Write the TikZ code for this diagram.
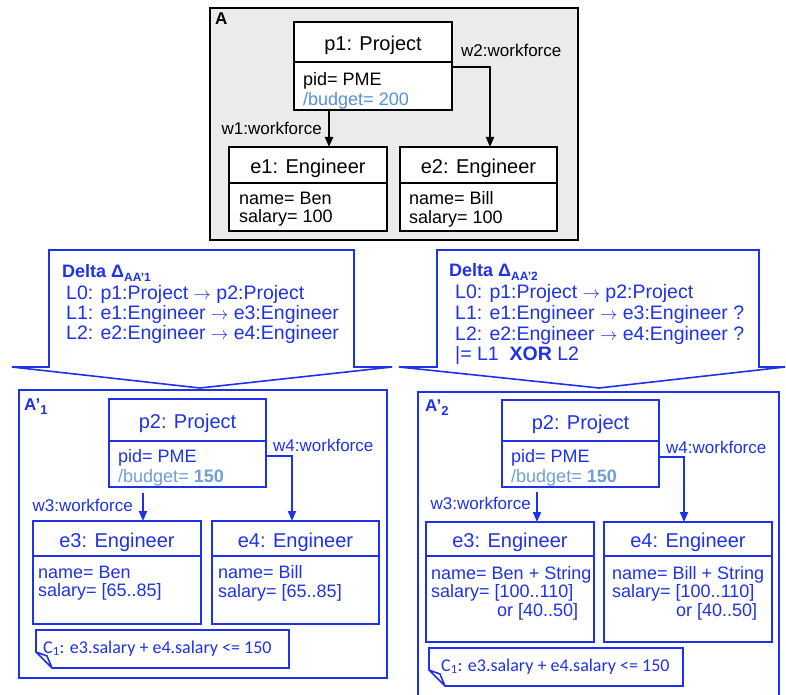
\documentclass[tikz,border=0pt]{standalone}
\usepackage{fontspec}
\setmainfont{Liberation Sans}
\newfontfamily\notefont{Carlito}
\usetikzlibrary{positioning, calc, arrows.meta}
\definecolor{dblue}{RGB}{30,50,235}
\definecolor{budget}{RGB}{85,145,220}
\definecolor{budgetl}{RGB}{110,160,215}
\definecolor{framegray}{RGB}{235,235,235}
\newcommand{\maps}{{\fontsize{17}{17}\selectfont$\rightarrow$}}
\tikzset{
  objhead/.style={draw, line width=2pt, outer sep=0pt, inner sep=0pt, fill=white, text height=17pt, text depth=0pt, font=\fontsize{20}{24}\selectfont},
  objbody/.style={draw, line width=2pt, outer sep=0pt, inner sep=0pt, fill=white},
  attr/.style={anchor=north west, inner sep=0pt, align=left, font=\fontsize{18}{18.5}\selectfont},
  lbl/.style={inner sep=0pt, font=\fontsize{17}{20}\selectfont},
  wire/.style={line width=1.8pt, -{Triangle[length=10pt,width=8pt]}},
  frame/.style={line width=2pt},
  callout/.style={draw=dblue, line width=1.6pt, fill=white},
  deltatext/.style={anchor=north west, inner sep=0pt, align=left, text=dblue},
  framelbl/.style={anchor=base west, inner sep=0pt, font=\bfseries\fontsize{17}{20}\selectfont},
  noteline/.style={line width=1.6pt, fill=white},
  notetext/.style={anchor=base west, inner sep=0pt, font=\notefont\fontsize{18}{20}\selectfont}
}
\begin{document}
\begin{tikzpicture}[x=1pt, y=-1pt]
\useasboundingbox (0,0) rectangle (786,695);

% model A
\draw[frame, fill=framegray] (210,8) rectangle (578,240);
\node[framelbl] (labA) at (215,25) {A};

\node (p1) [objhead, minimum width=158pt, minimum height=40pt] at (373,42) {p1: Project};
\node (p1body) [objbody, minimum width=158pt, minimum height=48pt, below=0pt of p1] {};
\node (p1attr) [attr, font=\fontsize{18}{20}\selectfont] at ($(p1body.north west)+(9,10.5)$) {pid= PME\\\textcolor{budget}{/budget= 200}};

\node (e1) [objhead, minimum width=158pt, minimum height=36pt] at (308,165) {e1: Engineer};
\node (e1body) [objbody, minimum width=158pt, minimum height=48pt, below=0pt of e1] {};
\node (e1attr) [attr] at ($(e1body.north west)+(10,8.5)$) {name= Ben\\salary= 100};

\node (e2) [objhead, minimum width=157pt, minimum height=36pt] at (478.5,165) {e2: Engineer};
\node (e2body) [objbody, minimum width=157pt, minimum height=48pt, below=0pt of e2] {};
\node (e2attr) [attr] at ($(e2body.north west)+(9,8.5)$) {name= Bill\\salary= 100};

\draw [wire] ($(p1body.south west)+(35,0)$) coordinate (w1s) -- (w1s |- e1.north);
\draw [wire] ($(p1body.north east)+(0,5)$) -| ($(e2.north)+(11.5,0)$);
\node (w1) [lbl, anchor=east] at (322,128) {w1:workforce};
\node (w2) [lbl, anchor=west] at (461,50) {w2:workforce};

% deltas
\draw[callout] (49,250) -- (354,250) -- (354,367) -- (392,367) -- (200,388) -- (12,367) -- (49,367) -- cycle;
\node (delta1) [deltatext, font=\fontsize{19.5}{20}\selectfont] at (62,264)
  {{\bfseries\fontsize{18}{20}\selectfont Delta Δ\raisebox{-4pt}{\fontsize{12}{12}\selectfont AA'1}}\\[2pt]
   \hspace*{4pt}L0: p1:Project \maps\ p2:Project\\
   \hspace*{4pt}L1: e1:Engineer \maps\ e3:Engineer\\
   \hspace*{4pt}L2: e2:Engineer \maps\ e4:Engineer};

\draw[callout] (437,250) -- (759,250) -- (759,367) -- (785,367) -- (599,388) -- (399,367) -- (437,367) -- cycle;
\node (delta2) [deltatext, font=\fontsize{19.5}{20.8}\selectfont] at (449,263)
  {{\bfseries\fontsize{18}{20}\selectfont Delta Δ\raisebox{-4pt}{\fontsize{12}{12}\selectfont AA'2}}\\[1.5pt]
   \hspace*{6pt}L0: p1:Project \maps\ p2:Project\\
   \hspace*{6pt}L1: e1:Engineer \maps\ e3:Engineer ?\\
   \hspace*{6pt}L2: e2:Engineer \maps\ e4:Engineer ?\\
   \hspace*{6pt}|= L1\ \ \textbf{XOR} L2};

% model A'1
\begin{scope}[dblue]
\draw[frame, fill=white] (19,390) rectangle (387,678);
\node[framelbl] (labA1) at (24,410) {A’\raisebox{-4pt}{\fontsize{13}{13}\selectfont 1}};

\node (p2l) [objhead, minimum width=157pt, minimum height=42pt] at (187.5,420) {p2: Project};
\node (p2lbody) [objbody, minimum width=157pt, minimum height=46pt, below=0pt of p2l] {};
\node (p2lattr) [attr, font=\fontsize{18}{20}\selectfont] at ($(p2lbody.north west)+(9,8.5)$) {pid= PME\\\textcolor{budgetl}{/budget= \textbf{150}}};

\node (e3l) [objhead, minimum width=168pt, minimum height=35pt] at (117,538.5) {e3: Engineer};
\node (e3lbody) [objbody, minimum width=168pt, minimum height=68pt, below=0pt of e3l] {};
\node (e3lattr) [attr] at ($(e3lbody.north west)+(5,9.5)$) {name= Ben\\salary= [65..85]};

\node (e4l) [objhead, minimum width=167pt, minimum height=35pt] at (295.5,538.5) {e4: Engineer};
\node (e4lbody) [objbody, minimum width=167pt, minimum height=68pt, below=0pt of e4l] {};
\node (e4lattr) [attr] at ($(e4lbody.north west)+(6,9.5)$) {name= Bill\\salary= [65..85]};

\draw [wire] ($(p2lbody.south west)+(34,6)$) coordinate (w3ls) -- (w3ls |- e3l.north);
\draw [wire] ($(p2lbody.north east)+(0,15)$) -| ($(e4l.north)+(-3.5,0)$);
\node (w3l) [lbl, anchor=east] at (133,505) {w3:workforce};
\node (w4l) [lbl, anchor=west] at (273,445) {w4:workforce};

\draw[noteline] (36,630) -- (289,630) -- (289,668) -- (52,668) -- (36,652) -- cycle (36,652) -- (47,656) -- (52,668);
\node (c1l) [notetext] at (43,653) {C\textsubscript{1}: e3.salary + e4.salary <= 150};
\end{scope}

% model A'2
\begin{scope}[dblue]
\draw[frame] (418,695) -- (418,392) -- (779,392) -- (779,695);
\node[framelbl] (labA2) at (425,411) {A’\raisebox{-4pt}{\fontsize{13}{13}\selectfont 2}};

\node (p2r) [objhead, minimum width=157pt, minimum height=41pt] at (580.5,420.5) {p2: Project};
\node (p2rbody) [objbody, minimum width=157pt, minimum height=46pt, below=0pt of p2r] {};
\node (p2rattr) [attr, font=\fontsize{18}{20}\selectfont] at ($(p2rbody.north west)+(9,8.5)$) {pid= PME\\\textcolor{budgetl}{/budget= \textbf{150}}};

\node (e3r) [objhead, minimum width=168pt, minimum height=34pt] at (510,539) {e3: Engineer};
\node (e3rbody) [objbody, minimum width=168pt, minimum height=86pt, below=0pt of e3r] {};
\node (e3rattr) [attr] at ($(e3rbody.north west)+(5,10)$) {name= Ben + String\\salary= [100..110]\\\hspace*{66pt}or [40..50]};

\node (e4r) [objhead, minimum width=168pt, minimum height=34pt] at (688,539) {e4: Engineer};
\node (e4rbody) [objbody, minimum width=168pt, minimum height=86pt, below=0pt of e4r] {};
\node (e4rattr) [attr] at ($(e4rbody.north west)+(8,10)$) {name= Bill + String\\salary= [100..110]\\\hspace*{64pt}or [40..50]};

\draw [wire] ($(p2rbody.south west)+(35,5)$) coordinate (w3rs) -- (w3rs |- e3r.north);
\draw [wire] ($(p2rbody.north east)+(0,16)$) -| ($(e4r.north)+(-4,0)$);
\node (w3r) [lbl, anchor=east] at (531,503) {w3:workforce};
\node (w4r) [lbl, anchor=west] at (666,447) {w4:workforce};

\draw[noteline] (429,648) -- (683,648) -- (683,686) -- (445,686) -- (429,670) -- cycle (429,670) -- (440,674) -- (445,686);
\node (c1r) [notetext] at (441,671) {C\textsubscript{1}: e3.salary + e4.salary <= 150};
\end{scope}

\end{tikzpicture}
\end{document}
